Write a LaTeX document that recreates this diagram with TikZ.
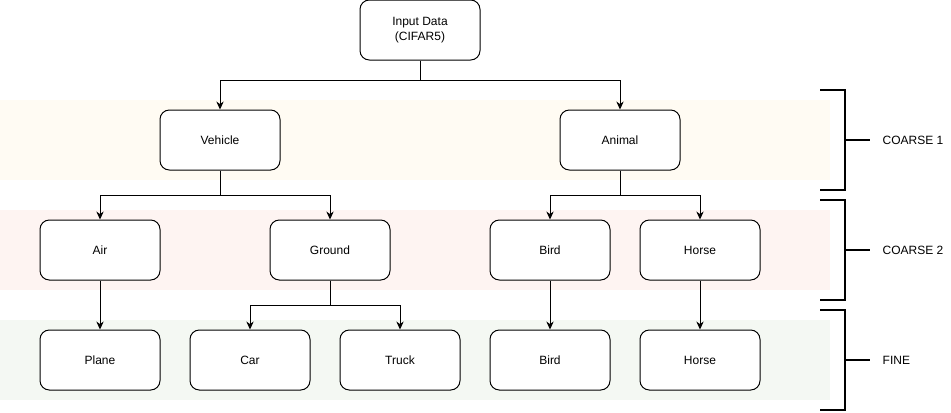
\documentclass[tikz,border=0pt]{standalone}
\usepackage{fontspec}
\setmainfont{Liberation Sans}
\usetikzlibrary{arrows.meta, positioning}

\definecolor{coarseone}{HTML}{FFFBF3}
\definecolor{coarsetwo}{HTML}{FEF4F2}
\definecolor{finecol}{HTML}{F4F8F3}

\tikzset{
    classbox/.style={draw, rounded corners=7pt, fill=white, minimum width=90pt, minimum height=45pt, align=center, font=\fontsize{9}{11}\selectfont, line width=0.75pt},
    link/.style={-{Stealth[length=6pt, width=5.5pt]}, line width=0.75pt},
    brace/.style={line width=1.5pt}
}

\begin{document}
\begin{tikzpicture}[x=0.75pt, y=-0.75pt]
            \useasboundingbox (0,0) rectangle (951,412);

            % Level bands
            \fill[coarseone] (0,100) rectangle (830,180);
            \fill[coarsetwo] (0,210) rectangle (830,290);
            \fill[finecol] (0,320) rectangle (830,400);

            % Root
            \node[classbox] (input) at (420,30) {Input Data\\(CIFAR5)};

            % Coarse 1
            \node[classbox] (vehicle) at (220,140) {Vehicle};
            \node[classbox] (animal) at (620,140) {Animal};

            % Coarse 2
            \node[classbox] (air) at (100,250) {Air};
            \node[classbox] (ground) at (330,250) {Ground};
            \node[classbox] (bird) at (550,250) {Bird};
            \node[classbox] (horse) at (700,250) {Horse};

            % Fine
            \node[classbox] (plane) at (100,360) {Plane};
            \node[classbox] (car) at (250,360) {Car};
            \node[classbox] (truck) at (400,360) {Truck};
            \node[classbox] (birdfine) at (550,360) {Bird};
            \node[classbox] (horsefine) at (700,360) {Horse};

            % Connections
            \draw[link] (input.south) -- ++(0,20) -| (vehicle.north);
            \draw[link] (input.south) -- ++(0,20) -| (animal.north);
            \draw[link] (vehicle.south) -- ++(0,25) -| (air.north);
            \draw[link] (vehicle.south) -- ++(0,25) -| (ground.north);
            \draw[link] (animal.south) -- ++(0,25) -| (bird.north);
            \draw[link] (animal.south) -- ++(0,25) -| (horse.north);
            \draw[link] (ground.south) -- ++(0,25) -| (car.north);
            \draw[link] (ground.south) -- ++(0,25) -| (truck.north);
            \draw[link] (air) -- (plane);
            \draw[link] (bird) -- (birdfine);
            \draw[link] (horse) -- (horsefine);

            % Level brackets
            \draw[brace] (820,90) -- (845,90) -- (845,190) -- (820,190);
            \draw[brace] (845,140) -- (870,140);
            \node[anchor=west, font=\fontsize{9}{11}\selectfont] (lvlone) at (878,140) {COARSE 1};
            \draw[brace] (820,200) -- (845,200) -- (845,300) -- (820,300);
            \draw[brace] (845,250) -- (870,250);
            \node[anchor=west, font=\fontsize{9}{11}\selectfont] (lvltwo) at (878,250) {COARSE 2};
            \draw[brace] (820,310) -- (845,310) -- (845,410) -- (820,410);
            \draw[brace] (845,360) -- (870,360);
            \node[anchor=west, font=\fontsize{9}{11}\selectfont] (lvlfine) at (878,360) {FINE};
        \end{tikzpicture}
\end{document}
